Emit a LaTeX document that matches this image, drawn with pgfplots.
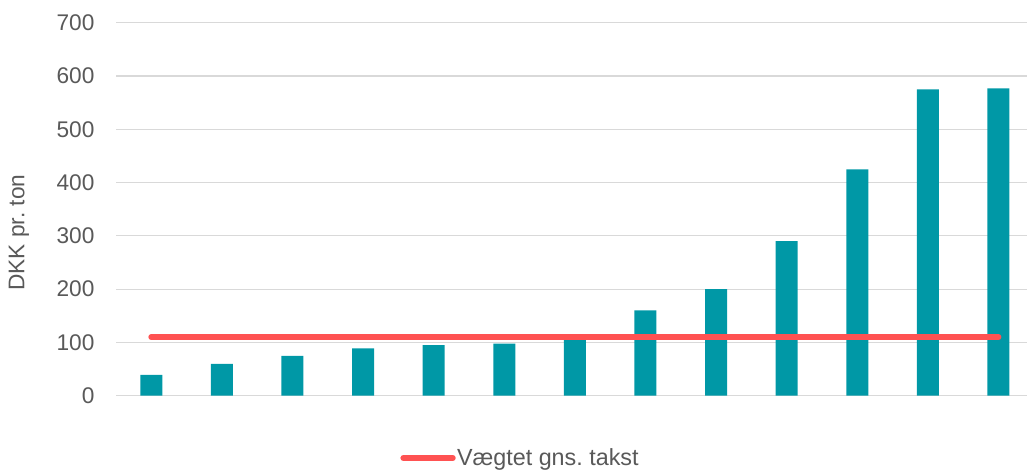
\documentclass[border=0pt]{standalone}
\usepackage{pgfplots}
\pgfplotsset{compat=1.18}
\usepackage{fontspec}
\setmainfont{Liberation Sans}
\frenchspacing
\definecolor{barc}{RGB}{0,152,166}
\definecolor{linec}{RGB}{255,82,82}
\definecolor{gridc}{RGB}{217,217,217}
\definecolor{txt}{RGB}{89,89,89}
\begin{document}
\begin{tikzpicture}
\useasboundingbox (0,0) rectangle (770.25pt,352.5pt);
\begin{axis}[
 at={(87pt,55.7pt)}, anchor=south west,
 scale only axis, width=683pt, height=279.75pt,
 xmin=-0.5, xmax=12.4, ymin=0, ymax=700,
 ytick={0,100,...,700}, xtick=\empty,
 ymajorgrids, grid style={gridc, line width=0.9pt},
 axis line style={draw=none},
 major tick length=0pt,
 tick label style={font=\fontsize{17}{20}\selectfont, text=txt},
 /pgf/number format/assume math mode=true,
 yticklabel style={anchor=east, xshift=-16pt, inner sep=0pt},
 legend style={at={(rel axis cs:0.312,-0.167)}, anchor=west, draw=none, inner sep=0pt,
   font=\fontsize{17.5}{20}\selectfont, text=txt, nodes={inner sep=1pt}},
 legend image code/.code={\draw[#1] (0pt,0pt) -- (37pt,0pt);},
]
\addplot[ybar, bar width=16.5pt, fill=barc, draw=none, forget plot] coordinates {
 (0,39) (1,60) (2,75) (3,89) (4,95) (5,98) (6,108) (7,160) (8,200) (9,290) (10,425) (11,575) (12,577)};
\addplot[linec, line width=4.5pt, line cap=round] coordinates {(0,110) (12,110)};
\addlegendentry{Vægtet gns. takst}
\end{axis}
\node[rotate=90, font=\fontsize{17}{20}\selectfont, text=txt] at (14.2pt,178pt) {DKK pr. ton};
\end{tikzpicture}
\end{document}
